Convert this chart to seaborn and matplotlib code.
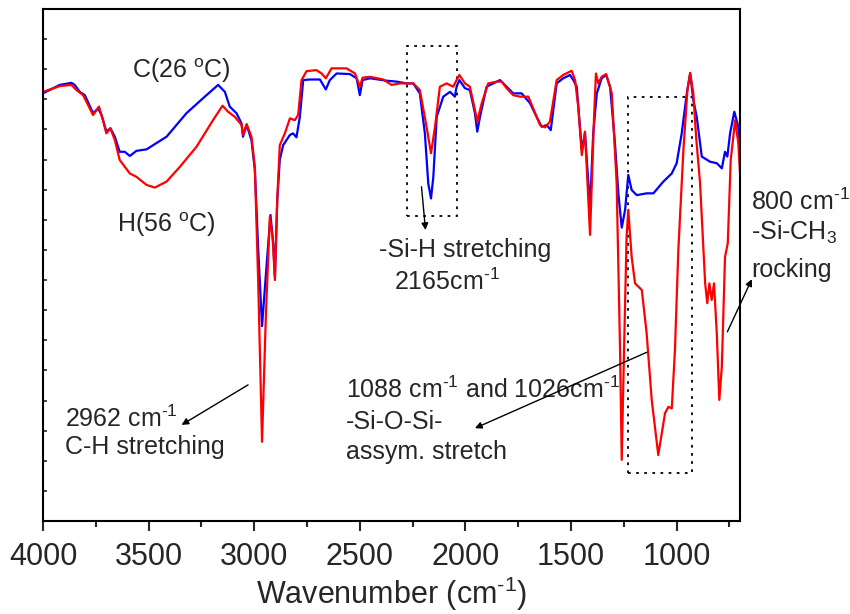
"""
FTIR spectra of the film at 26 C and 56 C
"""
import numpy as np
import pandas as pd
import matplotlib
matplotlib.use("Agg")
import matplotlib.pyplot as plt
import seaborn as sns
from matplotlib.patches import Rectangle

# wavenumbers (cm-1) and transmittance (a.u.)
wn_c = [4000, 3921, 3865, 3850, 3826, 3802, 3763, 3739, 3723, 3700, 3681, 3660,
        3637, 3613, 3589, 3558, 3510, 3415, 3321, 3226, 3171, 3139, 3116, 3084,
        3060, 3053, 3036, 3013, 2997, 2981, 2963, 2942, 2923, 2910, 2902, 2891,
        2879, 2863, 2831, 2816, 2800, 2784, 2768, 2737, 2689, 2661, 2642, 2610,
        2547, 2515, 2500, 2487, 2452, 2373, 2326, 2278, 2247, 2216, 2192, 2176,
        2163, 2152, 2136, 2105, 2073, 2050, 2042, 2029, 2002, 1979, 1955, 1944,
        1931, 1900, 1868, 1837, 1805, 1774, 1734, 1694, 1663, 1639, 1615, 1596,
        1568, 1537, 1505, 1489, 1473, 1449, 1434, 1410, 1395, 1378, 1355, 1334,
        1315, 1292, 1276, 1260, 1244, 1229, 1213, 1189, 1142, 1110, 1063, 1023,
        1000, 976, 952, 936, 921, 905, 881, 842, 810, 786, 771, 760, 747, 727,
        708, 700]
t_c = [14.20, 14.48, 14.55, 14.48, 14.25, 14.14, 13.54, 13.70, 13.48, 12.93, 13.04, 12.76,
       12.26, 12.26, 12.12, 12.29, 12.34, 12.76, 13.54, 14.14, 14.48, 14.25, 13.76, 13.54,
       13.20, 12.76, 13.15, 12.65, 11.65, 9.00, 6.47, 8.44, 10.16, 9.22, 8.11, 10.66,
       11.99, 12.48, 12.82, 12.87, 12.74, 13.42, 14.64, 14.66, 14.66, 14.33, 14.64, 14.86,
       14.84, 14.70, 14.14, 14.64, 14.70, 14.62, 14.59, 14.53, 14.53, 14.20, 12.87, 11.21,
       10.71, 11.43, 13.42, 14.09, 14.25, 14.09, 14.42, 14.64, 14.37, 14.31, 13.54, 12.93,
       13.42, 14.42, 14.53, 14.64, 14.42, 14.20, 14.20, 13.87, 13.42, 13.09, 13.15, 12.98,
       14.53, 14.70, 14.81, 14.64, 14.42, 12.32, 12.87, 10.41, 12.87, 14.20, 14.70, 14.81,
       14.42, 12.54, 10.88, 9.74, 10.33, 11.49, 10.99, 10.82, 10.88, 10.88, 11.27, 11.54,
       11.88, 12.87, 14.20, 14.86, 13.98, 13.42, 12.10, 11.93, 11.88, 11.71, 12.26, 12.10,
       12.87, 13.59, 13.09, 12.43]

wn_h = [4000, 3921, 3865, 3842, 3810, 3763, 3735, 3716, 3700, 3681, 3660, 3637,
        3589, 3558, 3510, 3471, 3415, 3352, 3273, 3195, 3150, 3124, 3092, 3060,
        3053, 3036, 3013, 2997, 2981, 2963, 2945, 2926, 2913, 2902, 2891, 2879,
        2855, 2831, 2808, 2792, 2776, 2752, 2705, 2681, 2661, 2634, 2563, 2523,
        2500, 2487, 2452, 2389, 2350, 2310, 2247, 2216, 2184, 2163, 2144, 2121,
        2089, 2058, 2042, 2029, 2002, 1979, 1955, 1944, 1923, 1892, 1852, 1828,
        1805, 1774, 1742, 1702, 1679, 1647, 1623, 1600, 1568, 1537, 1497, 1481,
        1466, 1449, 1434, 1410, 1391, 1382, 1371, 1355, 1334, 1307, 1284, 1268,
        1260, 1249, 1237, 1229, 1213, 1197, 1165, 1142, 1118, 1087, 1055, 1039,
        1023, 1008, 992, 968, 949, 936, 921, 908, 889, 865, 855, 845, 834, 823,
        810, 798, 786, 771, 758, 744, 723, 708, 700]
t_h = [14.25, 14.44, 14.48, 14.31, 14.14, 13.48, 13.76, 13.31, 12.87, 13.04, 12.65, 11.99,
       11.54, 11.43, 11.16, 11.07, 11.27, 11.76, 12.43, 13.31, 13.79, 13.59, 13.42, 13.15,
       12.82, 13.18, 12.76, 11.76, 7.89, 2.63, 6.78, 10.10, 9.44, 8.00, 10.66, 12.48,
       12.87, 13.37, 13.31, 13.48, 14.64, 14.94, 14.97, 14.86, 14.70, 15.03, 15.03, 14.86,
       14.42, 14.72, 14.75, 14.66, 14.48, 14.53, 14.53, 14.31, 13.09, 12.21, 13.09, 14.42,
       14.53, 14.42, 14.64, 14.81, 14.53, 14.42, 13.65, 13.26, 13.87, 14.53, 14.59, 14.59,
       14.37, 14.14, 14.09, 14.09, 13.70, 13.15, 13.07, 13.26, 14.64, 14.81, 14.95, 14.64,
       13.76, 12.15, 12.93, 9.50, 13.42, 14.86, 14.53, 14.75, 14.84, 14.20, 11.21, 5.68,
       2.03, 5.68, 9.44, 10.33, 8.77, 7.89, 7.67, 6.23, 4.02, 2.19, 3.58, 3.79,
       3.74, 5.68, 9.00, 12.32, 14.31, 14.88, 14.20, 12.76, 11.21, 7.89, 7.23, 7.89, 7.34, 7.89,
       6.23, 4.02, 5.12, 8.77, 9.22, 11.99, 13.31, 12.54, 11.54]

x_ticks = [4000, 3500, 3000, 2500, 2000, 1500, 1000]
x_minor = [3750, 3250, 2750, 2250, 1750, 1250, 750]

# superscript "-1" written with a plain hyphen, as in the original figure
INV = '$^{\\text{-}1}$'


def setup_plotting_style():
    sns.set_style("ticks")
    plt.rcParams['font.family'] = ['Liberation Sans', 'DejaVu Sans']
    plt.rcParams['mathtext.fontset'] = 'custom'
    plt.rcParams['mathtext.rm'] = 'Liberation Sans'
    plt.rcParams['mathtext.it'] = 'Liberation Sans:italic'
    plt.rcParams['axes.linewidth'] = 1.5
    plt.rcParams['axes.edgecolor'] = 'black'


setup_plotting_style()

df_c = pd.DataFrame({'wn': wn_c, 't': t_c})
df_h = pd.DataFrame({'wn': wn_h, 't': t_h})

fig = plt.figure(figsize=(8.5, 6.14), dpi=100)
ax = fig.add_axes([0.0506, 0.1515, 0.82, 0.8338])

sns.lineplot(data=df_c, x='wn', y='t', ax=ax, color='#0000ff', lw=1.6,
             estimator=None, sort=False)
sns.lineplot(data=df_h, x='wn', y='t', ax=ax, color='#ff0000', lw=1.6,
             estimator=None, sort=False)

ax.set_xlim(4000, 700)
ax.set_ylim(0, 17)
ax.set_xticks(x_ticks)
ax.set_xticks(x_minor, minor=True)
ax.set_yticks(np.arange(1, 17))
ax.set_yticklabels([])
ax.tick_params(axis='x', which='major', direction='out', length=7, width=1.5,
               labelsize=22, pad=8)
ax.tick_params(axis='x', which='minor', direction='out', length=4, width=1.5)
ax.tick_params(axis='y', direction='in', length=3, width=1.2)
ax.set_xlabel('Wavenumber (cm' + INV + ')', fontsize=22, labelpad=2)
ax.set_ylabel('')
for s in ax.spines.values():
    s.set_visible(True)

fs = 18
# curve labels
ax.text(3581, 14.71, 'C(26 $^{\\mathrm{o}}$C)', fontsize=fs, va='baseline')
ax.text(3652, 9.60, 'H(56 $^{\\mathrm{o}}$C)', fontsize=fs, va='baseline')

# band assignments
ax.text(2407, 8.77, '-Si-H stretching', fontsize=fs, va='baseline')
ax.text(2337, 7.67, '2165cm' + INV, fontsize=fs, va='baseline')
ax.text(2566, 4.07, '1088 cm' + INV + ' and 1026cm' + INV, fontsize=fs, va='baseline')
ax.text(2566, 3.07, '-Si-O-Si-', fontsize=fs, va='baseline')
ax.text(2566, 2.05, 'assym. stretch', fontsize=fs, va='baseline')
ax.text(3897, 3.13, '2962 cm' + INV, fontsize=fs, va='baseline')
ax.text(3897, 2.22, 'C-H stretching', fontsize=fs, va='baseline')
ax.text(648, 10.33, '800 cm' + INV, fontsize=fs, va='baseline', clip_on=False)
ax.text(648, 9.33, '-Si-CH$_3$', fontsize=fs, va='baseline', clip_on=False)
ax.text(648, 8.11, 'rocking', fontsize=fs, va='baseline', clip_on=False)

arrow = dict(arrowstyle='-|>', color='black', lw=1.0, mutation_scale=10,
             shrinkA=0, shrinkB=0)
ax.annotate('', xy=(3344, 3.19), xytext=(3029, 4.52), arrowprops=arrow)
ax.annotate('', xy=(2189, 9.66), xytext=(2208, 11.10), arrowprops=arrow)
ax.annotate('', xy=(1955, 3.08), xytext=(1142, 5.60), arrowprops=arrow)
ax.annotate('', xy=(644, 8.03), xytext=(760, 6.28), arrowprops=arrow,
            annotation_clip=False)

# dotted boxes around the Si-H and Si-O-Si bands
ax.add_patch(Rectangle((2277, 10.14), 2040 - 2277, 15.78 - 10.14, fill=False,
                       ls=(0, (1.5, 3)), lw=1.3, ec='black'))
ax.add_patch(Rectangle((1232, 1.58), 928 - 1232, 14.07 - 1.58, fill=False,
                       ls=(0, (1.5, 3)), lw=1.3, ec='black'))

fig.savefig('out.png', dpi=100)
